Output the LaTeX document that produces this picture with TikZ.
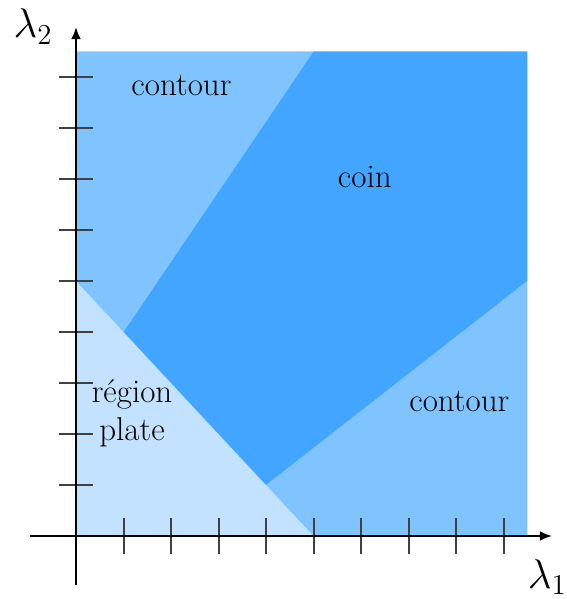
\documentclass[tikz,border=0pt]{standalone}
\usetikzlibrary{arrows.meta}
\definecolor{coinblue}{RGB}{66,165,255}
\definecolor{contourblue}{RGB}{128,196,255}
\definecolor{plateblue}{RGB}{194,226,255}
\begin{document}
\begin{tikzpicture}[
        x=0.8347cm, y=0.8962cm,
        axis/.style={line width=1.2pt, -{Latex[length=6pt,width=5pt]}},
        tickmark/.style={line width=1pt, black!75},
        regionlabel/.style={font=\fontsize{16.5}{19}\selectfont, align=center},
        axislabel/.style={font=\fontsize{21}{24}\selectfont}
    ]
    \useasboundingbox (-1.6,-1.2353) rectangle (10.3158,10.5098);
    \fill[plateblue] (0,0) -- (0,5) -- (5,0) -- cycle;
    \fill[contourblue] (0,5) -- (1,4) -- (5,9.5) -- (0,9.5) -- cycle;
    \fill[contourblue] (5,0) -- (4,1) -- (9.5,5) -- (9.5,0) -- cycle;
    \fill[coinblue] (1,4) -- (5,9.5) -- (9.5,9.5) -- (9.5,5) -- (4,1) -- cycle;
    \foreach \i in {1,...,9} {
        \draw[tickmark] (\i,-0.353) -- (\i,0.353);
        \draw[tickmark] (-0.358,\i) -- (0.358,\i);
    }
    \coordinate (xstart) at (-0.968,0);
    \coordinate (xend) at (10.02,0);
    \coordinate (ystart) at (0,-0.96);
    \coordinate (yend) at (0,9.98);
    \draw[axis] (xstart) -- (xend);
    \draw[axis] (ystart) -- (yend);
    \node[axislabel] (lambda1) at (9.92,-0.80) {$\lambda_1$};
    \node[axislabel] (lambda2) at (-0.905,9.99) {$\lambda_2$};
    \node[regionlabel] (contourhaut) at (2.22,8.84) {contour};
    \node[regionlabel] (coin) at (6.08,7.04) {coin};
    \node[regionlabel] (contourbas) at (8.07,2.63) {contour};
    \node[regionlabel] (plate) at (1.18,2.41) {région\\plate};
\end{tikzpicture}
\end{document}
